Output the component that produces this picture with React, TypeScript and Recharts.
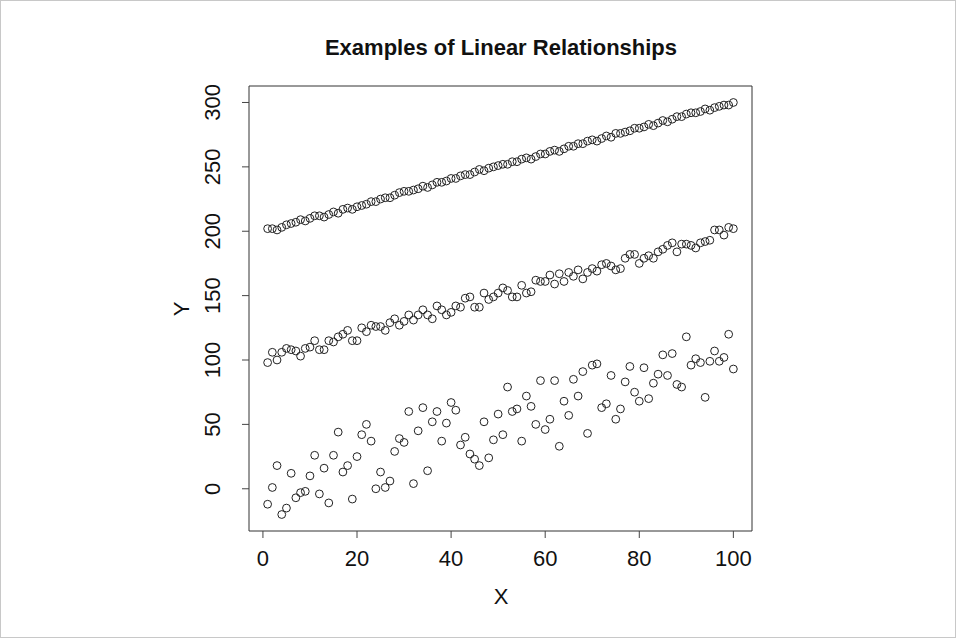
import { ScatterChart, Scatter, XAxis, YAxis, ReferenceArea } from 'recharts'

// x positions 1..100 shared by all three series
const xValues = Array.from({ length: 100 }, (_, i) => i + 1)

// near-perfect relationship (top)
const strongY = [
  202, 202, 201, 203, 205, 206, 207, 209, 208, 210,
  212, 212, 211, 213, 215, 214, 217, 218, 217, 219,
  220, 221, 223, 223, 225, 226, 226, 228, 230, 231,
  231, 232, 233, 235, 234, 236, 238, 238, 239, 241,
  241, 243, 244, 244, 246, 248, 247, 249, 250, 251,
  252, 252, 254, 254, 256, 257, 256, 258, 260, 260,
  262, 263, 262, 264, 266, 266, 268, 268, 270, 271,
  270, 272, 274, 273, 276, 276, 277, 278, 280, 280,
  281, 283, 282, 284, 286, 285, 287, 289, 289, 291,
  292, 292, 293, 295, 294, 296, 297, 298, 298, 300,
]

// moderate noise (middle)
const moderateY = [
  98, 106, 100, 106, 109, 108, 107, 103, 109, 110,
  115, 108, 108, 115, 114, 118, 120, 123, 115, 115,
  125, 122, 127, 126, 126, 123, 129, 132, 127, 130,
  135, 131, 135, 139, 135, 132, 142, 139, 135, 137,
  142, 141, 148, 149, 141, 141, 152, 147, 149, 152,
  156, 154, 149, 149, 158, 152, 153, 162, 161, 161,
  166, 159, 167, 161, 168, 165, 170, 163, 168, 171,
  169, 174, 175, 173, 170, 171, 179, 182, 182, 175,
  179, 181, 179, 184, 186, 189, 191, 184, 190, 190,
  189, 187, 191, 192, 193, 201, 201, 197, 203, 202,
]

// heavy noise (bottom)
const weakY = [
  -12, 1, 18, -20, -15, 12, -7, -3, -2, 10,
  26, -4, 16, -11, 26, 44, 13, 18, -8, 25,
  42, 50, 37, 0, 13, 1, 6, 29, 39, 36,
  60, 4, 45, 63, 14, 52, 60, 37, 51, 67,
  61, 34, 40, 27, 23, 18, 52, 24, 38, 58,
  42, 79, 60, 62, 37, 72, 64, 50, 84, 46,
  54, 84, 33, 68, 57, 85, 72, 91, 43, 96,
  97, 63, 66, 88, 54, 62, 83, 95, 75, 68,
  94, 70, 82, 89, 104, 88, 105, 81, 79, 118,
  96, 101, 98, 71, 99, 107, 99, 102, 120, 93,
]

const xTicks = [0, 20, 40, 60, 80, 100]
const yTicks = [0, 50, 100, 150, 200, 250, 300]

const toPoints = (ys: number[]) => xValues.map((x, i) => ({ x, y: ys[i] }))

const FONT = '"Liberation Sans", Arial, Helvetica, sans-serif'

const OpenCircle = (props: { cx?: number; cy?: number }) => (
  <circle cx={props.cx} cy={props.cy} r={3.9} fill="none" stroke="#222" strokeWidth={1} />
)

const XTick = ({ x, y, payload }: { x?: number; y?: number; payload?: { value: number } }) => (
  <text x={x} y={(y ?? 0) + 26} textAnchor="middle" fontSize={22} fill="#111" fontFamily={FONT}>
    {payload?.value}
  </text>
)

const YTick = ({ x, y, payload }: { x?: number; y?: number; payload?: { value: number } }) => {
  const bx = (x ?? 0) - 20
  return (
    <text
      x={bx}
      y={y}
      transform={`rotate(-90, ${bx}, ${y})`}
      textAnchor="middle"
      fontSize={22}
      fill="#111"
      fontFamily={FONT}
    >
      {payload?.value}
    </text>
  )
}

export default function App() {
  return (
    <div
      style={{
        position: 'absolute',
        left: 0,
        top: 0,
        width: 956,
        height: 638,
        background: '#fff',
        boxSizing: 'border-box',
        border: '1px solid #c8c8c8',
      }}
    >
      <svg
        width={956}
        height={638}
        style={{ position: 'absolute', left: -1, top: -1, pointerEvents: 'none' }}
      >
        <text x={501} y={55} textAnchor="middle" fontSize={22} fontWeight="bold" fill="#111" fontFamily={FONT}>
          Examples of Linear Relationships
        </text>
        <text x={501} y={604} textAnchor="middle" fontSize={22} fill="#111" fontFamily={FONT}>
          X
        </text>
        <text x={189} y={309} transform="rotate(-90, 189, 309)" textAnchor="middle" fontSize={22} fill="#111" fontFamily={FONT}>
          Y
        </text>
      </svg>
      <div style={{ position: 'absolute', left: -1, top: -1 }}>
        <ScatterChart width={956} height={638} margin={{ top: 86, right: 204, bottom: 0, left: 0 }}>
          <XAxis
            type="number"
            dataKey="x"
            domain={[-2.96, 103.96]}
            ticks={xTicks}
            height={107}
            axisLine={false}
            tickSize={7}
            tickLine={{ stroke: '#444' }}
            tick={<XTick />}
            allowDataOverflow
          />
          <YAxis
            type="number"
            dataKey="y"
            domain={[-32.8, 312.8]}
            ticks={yTicks}
            width={249}
            axisLine={false}
            tickSize={7}
            tickLine={{ stroke: '#444' }}
            tick={<YTick />}
            allowDataOverflow
          />
          <ReferenceArea
            x1={-2.96}
            x2={103.96}
            y1={-32.8}
            y2={312.8}
            fill="none"
            stroke="#333"
            strokeWidth={1}
            ifOverflow="visible"
          />
          <Scatter data={toPoints(strongY)} shape={<OpenCircle />} isAnimationActive={false} />
          <Scatter data={toPoints(moderateY)} shape={<OpenCircle />} isAnimationActive={false} />
          <Scatter data={toPoints(weakY)} shape={<OpenCircle />} isAnimationActive={false} />
        </ScatterChart>
      </div>
    </div>
  )
}
